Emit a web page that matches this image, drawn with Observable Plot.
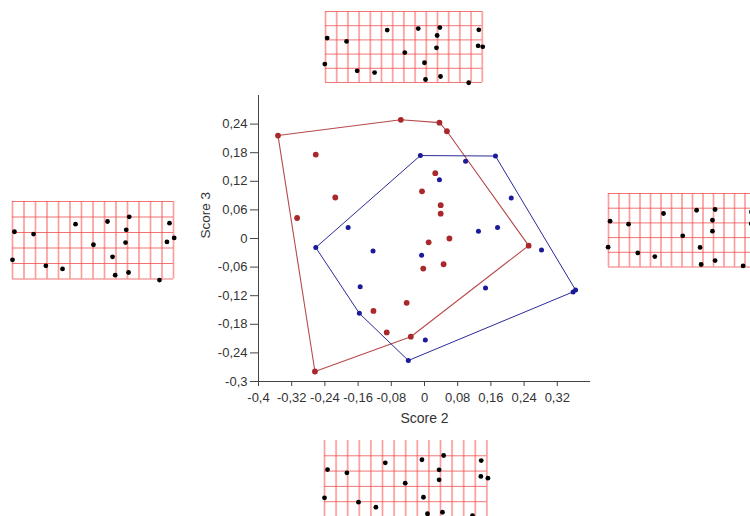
<!DOCTYPE html>
<html><head><meta charset="utf-8">
<script src="https://cdn.jsdelivr.net/npm/d3@7"></script>
<script src="https://cdn.jsdelivr.net/npm/@observablehq/plot@0.6"></script>
<style>
html,body{margin:0;padding:0;background:#fff;overflow:hidden;}
#wrap{position:relative;width:750px;height:516px;overflow:hidden;background:#fff;}
#wrap svg{position:absolute;overflow:visible;}
</style></head><body><div id="wrap"></div>
<script>
// ---- main scatter data (Score 2, Score 3) ----
const redX = [-0.353, -0.057, 0.036, 0.054, -0.262, -0.215, -0.307, 0.026, -0.006, 0.039, 0.039, 0.060, 0.010, 0.046, -0.003, 0.251, -0.043, -0.123, -0.091, -0.033, -0.264];
const redY = [0.216, 0.249, 0.243, 0.225, 0.176, 0.086, 0.043, 0.137, 0.099, 0.070, 0.052, 0.000, -0.008, -0.054, -0.063, -0.015, -0.135, -0.152, -0.197, -0.206, -0.279];
const blueX = [-0.010, 0.171, 0.099, 0.036, 0.209, -0.184, 0.130, 0.176, -0.262, -0.124, -0.007, 0.282, -0.155, 0.147, 0.358, 0.364, -0.157, 0.002, -0.039];
const blueY = [0.174, 0.173, 0.162, 0.123, 0.085, 0.023, 0.015, 0.023, -0.019, -0.026, -0.035, -0.024, -0.101, -0.104, -0.112, -0.108, -0.157, -0.213, -0.256];
const xTicks = [-0.4, -0.32, -0.24, -0.16, -0.08, 0, 0.08, 0.16, 0.24, 0.32];
const yTicks = [-0.3, -0.24, -0.18, -0.12, -0.06, 0, 0.06, 0.12, 0.18, 0.24];

// ---- deformation grids: grid line indices and landmark positions (grid units) ----
const gridCols = [0,1,2,3,4,5,6,7,8,9,10,11,12,13,14];
const gridRows = [0,1,2,3,4,5];
const bottomRows = [1,2,3,4,5];
const topU = [0.15, 1.88, 5.51, 8.28, 10.21, 9.97, 13.69, 13.63, 14.04, 7.08, 9.91, -0.06, 2.83, 4.38, 8.84, 10.27, 8.93, 12.79];
const topV = [1.87, 2.11, 1.31, 1.20, 1.13, 1.69, 1.29, 2.42, 2.49, 2.89, 2.56, 3.70, 4.18, 4.30, 3.61, 4.58, 4.79, 5.02];
const leftU = [0.17, 1.83, 5.48, 8.26, 10.15, 9.89, 13.65, 13.43, 14.06, 7.04, 9.83, 0.00, 2.90, 4.35, 8.70, 10.09, 8.93, 12.78];
const leftV = [1.95, 2.10, 1.46, 1.29, 0.99, 1.83, 1.40, 2.61, 2.35, 2.79, 2.65, 3.76, 4.15, 4.35, 3.57, 4.58, 4.75, 5.07];
const rightU = [0.15, 1.91, 5.24, 8.39, 10.15, 9.90, 13.62, 13.60, 14.00, 7.07, 9.90, -0.04, 2.79, 4.41, 8.72, 10.15, 8.82, 12.82];
const rightV = [1.88, 2.09, 1.36, 1.14, 1.09, 1.82, 1.25, 2.05, 2.50, 2.88, 2.56, 3.65, 4.04, 4.29, 3.67, 4.56, 4.83, 4.93];
const bottomU = [0.26, 1.93, 5.24, 8.40, 10.27, 9.88, 13.51, 13.48, 14.09, 6.96, 9.88, 0.00, 2.93, 4.43, 8.53, 10.17, 8.88, 12.76];
const bottomV = [1.90, 2.11, 1.46, 1.26, 0.98, 1.92, 1.31, 2.35, 2.46, 2.79, 2.57, 3.75, 4.03, 4.36, 3.71, 4.69, 4.79, 4.92];

const wrap = document.getElementById("wrap");
const font = "'Liberation Sans', Arial, sans-serif";
const fmt = d => Math.abs(d) < 1e-9 ? "0" : String(+d.toFixed(2)).replace(".", ",");

const red = redX.map((x, i) => ({x, y: redY[i]}));
const blue = blueX.map((x, i) => ({x, y: blueY[i]}));

const main = Plot.plot({
  width: 750, height: 516,
  marginLeft: 258, marginRight: 160, marginTop: 95, marginBottom: 135,
  style: {fontFamily: font, fontSize: "13px", color: "#333", background: "transparent"},
  x: {domain: [-0.4, 0.4]},
  y: {domain: [-0.3, 0.3]},
  marks: [
    Plot.hull(red, {x: "x", y: "y", stroke: "#b84a4a", strokeWidth: 1.1}),
    Plot.hull(blue, {x: "x", y: "y", stroke: "#2a2a98", strokeWidth: 1}),
    Plot.dot(red, {x: "x", y: "y", r: 2.9, fill: "#a8282c", stroke: "none"}),
    Plot.dot(blue, {x: "x", y: "y", r: 2.5, fill: "#1a1a9a", stroke: "none"}),
    Plot.ruleY([-0.3], {stroke: "#444"}),
    Plot.ruleX([-0.4], {stroke: "#444"}),
    Plot.axisX({ticks: xTicks, tickFormat: fmt, tickSize: 5, tickPadding: 6, label: null, stroke: "#444", fill: "#333", fontSize: 13, style: {letterSpacing: "0.9px"}}),
    Plot.axisY({ticks: yTicks, tickFormat: fmt, tickSize: 8, tickPadding: 3, label: null, stroke: "#444", fill: "#333", fontSize: 13, style: {letterSpacing: "0.9px"}}),
    Plot.text(["Score 2"], {frameAnchor: "bottom", dy: 41, fontSize: 14, fill: "#333", style: {letterSpacing: "1px"}}),
    Plot.text(["Score 3"], {frameAnchor: "left", dx: -53, rotate: -90, fontSize: 13.5, fill: "#333"})
  ]
});
main.style.left = "0px"; main.style.top = "0px";
wrap.appendChild(main);

function grid(u, v, rows, left0, top0, sx, sy) {
  const m = 4;
  const pts = u.map((a, i) => ({u: a, v: v[i]}));
  const g = Plot.plot({
    width: 14 * sx + 2 * m, height: 5 * sy + 2 * m,
    margin: m,
    style: {background: "transparent"},
    x: {domain: [0, 14], axis: null},
    y: {domain: [0, 5], reverse: true, axis: null},
    marks: [
      Plot.ruleX(gridCols, {y1: 0, y2: 5, stroke: "#ffb0b0", strokeWidth: 2, strokeOpacity: 0.85}),
      Plot.ruleX(gridCols, {y1: 0, y2: 5, stroke: "#f06060", strokeWidth: 0.6, strokeOpacity: 0.55}),
      Plot.ruleY(rows, {x1: 0, x2: 14, stroke: "#f05050", strokeWidth: 1, strokeOpacity: 0.8}),
      Plot.dot(pts, {x: "u", y: "v", r: 2.4, fill: "#000", stroke: "none"})
    ]
  });
  g.style.left = (left0 - m) + "px";
  g.style.top = (top0 - m) + "px";
  wrap.appendChild(g);
}
grid(topU, topV, gridRows, 325, 10.7, 11.2, 14.2);
grid(leftU, leftV, gridRows, 12.3, 200.7, 11.5, 15.5);
grid(rightU, rightV, gridRows, 607.7, 193.3, 10.5, 14.7);
grid(bottomU, bottomV, bottomRows, 324.3, 440, 11.6, 15.3);
</script></body></html>
